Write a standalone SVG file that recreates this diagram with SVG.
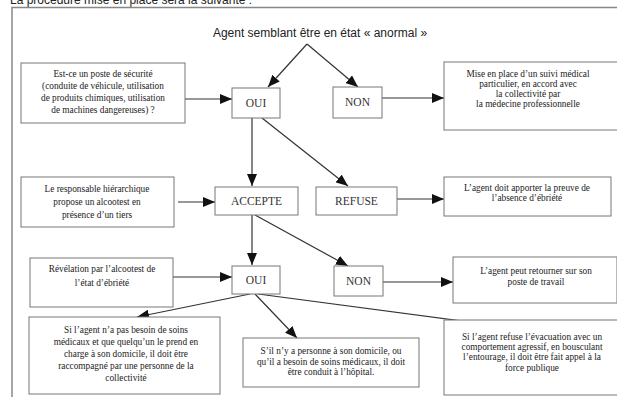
<svg xmlns="http://www.w3.org/2000/svg" width="617" height="397" viewBox="0 0 617 397">
<style>
.box{fill:#fff;stroke:#777;stroke-width:1}
.t{font-family:"Liberation Serif","Times New Roman",serif;font-size:9.3px;fill:#222;text-anchor:middle}
.lbl{font-family:"Liberation Serif","Times New Roman",serif;font-size:11.5px;fill:#333;text-anchor:middle}
.c{stroke:#333;stroke-width:1.2;fill:none;marker-end:url(#ah)}
.sans{font-family:"Liberation Sans",Arial,sans-serif;fill:#222}
</style>
<defs>
<marker id="ah" markerUnits="userSpaceOnUse" markerWidth="12" markerHeight="10" refX="12" refY="5" orient="auto">
<path d="M0,0 L12,5 L0,10 z" fill="#111"/>
</marker>
</defs>
<rect width="617" height="397" fill="#fff"/>
<text class="sans" x="10" y="4" font-size="12">La procédure mise en place sera la suivante :</text>
<rect x="12" y="7.5" width="620" height="400" fill="none" stroke="#888" stroke-width="1.5"/>
<g id="title"><text class="sans" x="320" y="37" font-size="12" text-anchor="middle">Agent semblant être en état « anormal »</text></g>

<g id="connectors">
<path class="c" d="M307,44 L268,87"/>
<path class="c" d="M307,44 L358,87"/>
<path class="c" d="M178,99 L232,99" stroke-width="2"/>
<path class="c" d="M382,98 L444,98" stroke-width="2"/>
<path class="c" d="M252,118 L252,186"/>
<path class="c" d="M262,118 L348,186"/>
<path class="c" d="M178,202 L215,202" stroke-width="1.6"/>
<path class="c" d="M397,199 L444,199" stroke-width="1.6"/>
<path class="c" d="M252,215 L252,265"/>
<path class="c" d="M255,215 L348,266"/>
<path class="c" d="M173,277 L232,277"/>
<path class="c" d="M383,282 L453,282"/>
<path class="c" d="M250,294 L137,317"/>
<path class="c" d="M255,294 L297,338"/>
<path class="c" d="M258,294 L523,329"/>
</g>

<g id="box1"><rect class="box" x="21" y="63" width="164" height="60"/>
<text class="t" x="103" y="77">Est-ce un poste de sécurité</text>
<text class="t" x="103" y="89">(conduite de véhicule, utilisation</text>
<text class="t" x="103" y="101">de produits chimiques, utilisation</text>
<text class="t" x="103" y="113">de machines dangereuses) ?</text></g>
<g id="oui1"><rect class="box" x="232" y="88" width="48" height="30"/><text class="lbl" x="256" y="107">OUI</text></g>
<g id="non1"><rect class="box" x="333" y="87" width="49" height="31"/><text class="lbl" x="357.5" y="106">NON</text></g>
<g id="box-suivi"><rect class="box" x="444" y="62" width="180" height="68"/>
<text class="t" x="528" y="77">Mise en place d’un suivi médical</text>
<text class="t" x="528" y="87">particulier, en accord avec</text>
<text class="t" x="528" y="97">la collectivité par</text>
<text class="t" x="528" y="107">la médecine professionnelle</text></g>

<g id="box2"><rect class="box" x="21" y="177" width="153" height="50"/>
<text class="t" x="97" y="192">Le responsable hiérarchique</text>
<text class="t" x="97" y="205">propose un alcootest en</text>
<text class="t" x="97" y="218">présence d’un tiers</text></g>
<g id="accepte"><rect class="box" x="215" y="187" width="83" height="28"/><text class="lbl" x="256.5" y="205">ACCEPTE</text></g>
<g id="refuse"><rect class="box" x="316" y="187" width="81" height="28"/><text class="lbl" x="356.5" y="205">REFUSE</text></g>
<g id="box-preuve"><rect class="box" x="444" y="177" width="167" height="39"/>
<text class="t" x="527" y="191">L’agent doit apporter la preuve de</text>
<text class="t" x="527" y="201">l’absence d’ébriété</text></g>

<g id="box3"><rect class="box" x="30" y="258" width="143" height="49"/>
<text class="t" x="102" y="272">Révélation par l’alcootest de</text>
<text class="t" x="102" y="286">l’état d’ébriété</text></g>
<g id="oui2"><rect class="box" x="232" y="266" width="48" height="28"/><text class="lbl" x="256" y="284">OUI</text></g>
<g id="non2"><rect class="box" x="334" y="266" width="49" height="30"/><text class="lbl" x="358.5" y="285">NON</text></g>
<g id="box-retour"><rect class="box" x="453" y="257" width="164" height="46"/>
<text class="t" x="536" y="274">L’agent peut retourner sur son</text>
<text class="t" x="536" y="285">poste de travail</text></g>

<g id="box4"><rect class="box" x="29" y="317" width="191" height="77"/>
<text class="t" x="126" y="333">Si l’agent n’a pas besoin de soins</text>
<text class="t" x="126" y="345">médicaux et que quelqu’un le prend en</text>
<text class="t" x="126" y="357">charge à son domicile, il doit être</text>
<text class="t" x="126" y="369">raccompagné par une personne de la</text>
<text class="t" x="126" y="381">collectivité</text></g>
<g id="box5"><rect class="box" x="243" y="338" width="176" height="49"/>
<text class="t" x="331" y="354">S’il n’y a personne à son domicile, ou</text>
<text class="t" x="331" y="365">qu’il a besoin de soins médicaux, il doit</text>
<text class="t" x="331" y="375">être conduit à l’hôpital.</text></g>
<g id="box6"><rect class="box" x="444" y="320" width="180" height="75"/>
<text class="t" x="532" y="340">Si l’agent refuse l’évacuation avec un</text>
<text class="t" x="532" y="350">comportement agressif, en bousculant</text>
<text class="t" x="532" y="360">l’entourage, il doit être fait appel à la</text>
<text class="t" x="532" y="371">force publique</text></g>
</svg>
